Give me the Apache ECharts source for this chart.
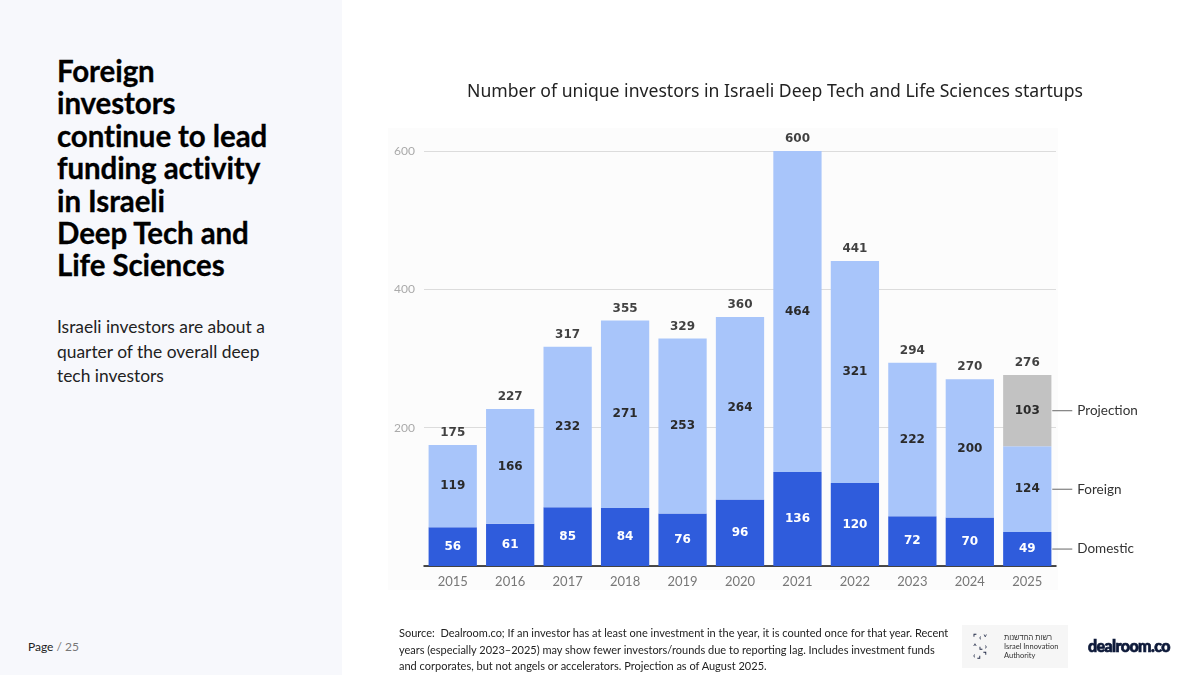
<!DOCTYPE html>
<html>
<head>
<meta charset="utf-8">
<script src="https://cdn.jsdelivr.net/npm/echarts@6/dist/echarts.min.js"></script>
<style>
html,body{margin:0;padding:0;width:1200px;height:675px;overflow:hidden;background:#fff;font-family:"Lato","Noto Sans",sans-serif;}
#left{position:absolute;left:0;top:0;width:342px;height:675px;background:#f7f8fc;}
#head{position:absolute;left:57px;top:55px;font-size:29.5px;font-weight:bold;line-height:32.4px;color:#000;letter-spacing:-0.1px;-webkit-text-stroke:0.3px #000;}
#sub{position:absolute;left:57px;top:315px;font-size:17.4px;line-height:24.5px;color:#222;}
#page{position:absolute;left:28px;top:639px;font-size:12px;color:#222;}
#page span{color:#777;}
#plotbg{position:absolute;left:388px;top:128px;width:670px;height:462px;background:#fcfcfc;}
#chart{position:absolute;left:0;top:0;width:1200px;height:675px;}
#src{position:absolute;left:399px;top:625px;width:556px;font-size:11px;line-height:16.5px;color:#222;}
#iia{position:absolute;left:962px;top:625px;width:106px;height:43px;background:#f6f6f6;}
#iia .sym{position:absolute;left:11px;top:8px;font-size:8px;line-height:9px;font-weight:bold;color:#1a2340;}
#iia .txt{position:absolute;left:42px;top:8px;font-size:7.5px;line-height:9px;color:#333;}
#dr{position:absolute;left:1088px;top:636px;font-size:16px;font-weight:900;color:#0e1a3a;letter-spacing:-0.6px;font-family:"Lato",sans-serif;-webkit-text-stroke:0.7px #0e1a3a;}
</style>
</head>
<body>
<div id="left"></div>
<div id="head">Foreign<br>investors<br>continue to lead<br>funding activity<br>in Israeli<br>Deep Tech and<br>Life Sciences</div>
<div id="sub">Israeli investors are about a<br>quarter of the overall deep<br>tech investors</div>
<div id="page">Page <span>/ 25</span></div>
<div id="plotbg"></div>
<div id="chart"></div>
<div id="src">Source:&nbsp; Dealroom.co; If an investor has at least one investment in the year, it is counted once for that year. Recent years (especially 2023–2025) may show fewer investors/rounds due to reporting lag. Includes investment funds and corporates, but not angels or accelerators. Projection as of August 2025.</div>
<div id="iia"><div class="sym">⌜ ‹ ˅<br>˄ ⌞ ›<br>‹ ⌟ ⌝</div><div class="txt">רשות החדשנות<br>Israel Innovation<br>Authority</div></div>
<div id="dr">dealroom.co</div>
<script>
const years = ['2015','2016','2017','2018','2019','2020','2021','2022','2023','2024','2025'];
const domestic = [56,61,85,84,76,96,136,120,72,70,49];
const foreign = [119,166,232,271,253,264,464,321,222,200,124];
const projection = [null,null,null,null,null,null,null,null,null,null,103];
const totals = [175,227,317,355,329,360,600,441,294,270,276];
const yTicks = [0,200,400,600];

const last = years.length - 1;
const midDom = domestic[last] / 2;
const midFor = domestic[last] + foreign[last] / 2;
const midProj = domestic[last] + foreign[last] + projection[last] / 2;

function annot(name, y) {
  return {
    silent: true,
    data: [{ coord: [years[last], y] }],
    symbol: 'rect',
    symbolSize: [20, 1],
    symbolOffset: [35, 0],
    itemStyle: { color: '#666' },
    label: { show: true, position: 'right', distance: 5, formatter: name, color: '#333', fontSize: 13.5, fontFamily: 'Lato' }
  };
}

const numLabel = (color) => ({
  show: true, position: 'inside', color: color, fontSize: 12, fontWeight: 'bold', fontFamily: 'DejaVu Sans',
  formatter: p => p.value == null ? '' : p.value
});

const chart = echarts.init(document.getElementById('chart'));
chart.setOption({
  animation: false,
  title: {
    text: 'Number of unique investors in Israeli Deep Tech and Life Sciences startups',
    left: 770, top: 78, textAlign: 'center',
    textStyle: { fontSize: 17.6, fontWeight: 'normal', color: '#222', fontFamily: 'Noto Sans' }
  },
  grid: { left: 424, right: 144, top: 151, bottom: 109 },
  xAxis: {
    type: 'category', data: years,
    axisLine: { lineStyle: { color: '#111', width: 1.5 } },
    axisTick: { show: false },
    axisLabel: { color: '#777', fontSize: 13, margin: 9, fontFamily: 'Lato' }
  },
  yAxis: {
    type: 'value', min: 0, max: 600, interval: 200,
    axisLabel: { color: '#aaa', fontSize: 12, margin: 9, fontFamily: 'Lato',
      formatter: v => yTicks.includes(v) && v !== 0 ? String(v) : '' },
    splitLine: { lineStyle: { color: '#dcdcdc', width: 1 } },
    axisLine: { show: false }, axisTick: { show: false }
  },
  series: [
    { name: 'Domestic', type: 'bar', stack: 'a', data: domestic, barCategoryGap: '16%',
      itemStyle: { color: '#2f5cdc' }, label: numLabel('#fff'), markPoint: annot('Domestic', midDom) },
    { name: 'Foreign', type: 'bar', stack: 'a', data: foreign,
      itemStyle: { color: '#a8c5fa' }, label: numLabel('#2a2a2a'), markPoint: annot('Foreign', midFor) },
    { name: 'Projection', type: 'bar', stack: 'a', data: projection,
      itemStyle: { color: '#c2c2c2' }, label: numLabel('#2a2a2a'), markPoint: annot('Projection', midProj) },
    { name: 'Total', type: 'scatter', data: totals, symbolSize: 0, silent: true,
      label: { show: true, position: 'top', distance: 6, color: '#111', fontSize: 12, fontWeight: 'bold', fontFamily: 'DejaVu Sans' } }
  ]
});
</script>
</body>
</html>
